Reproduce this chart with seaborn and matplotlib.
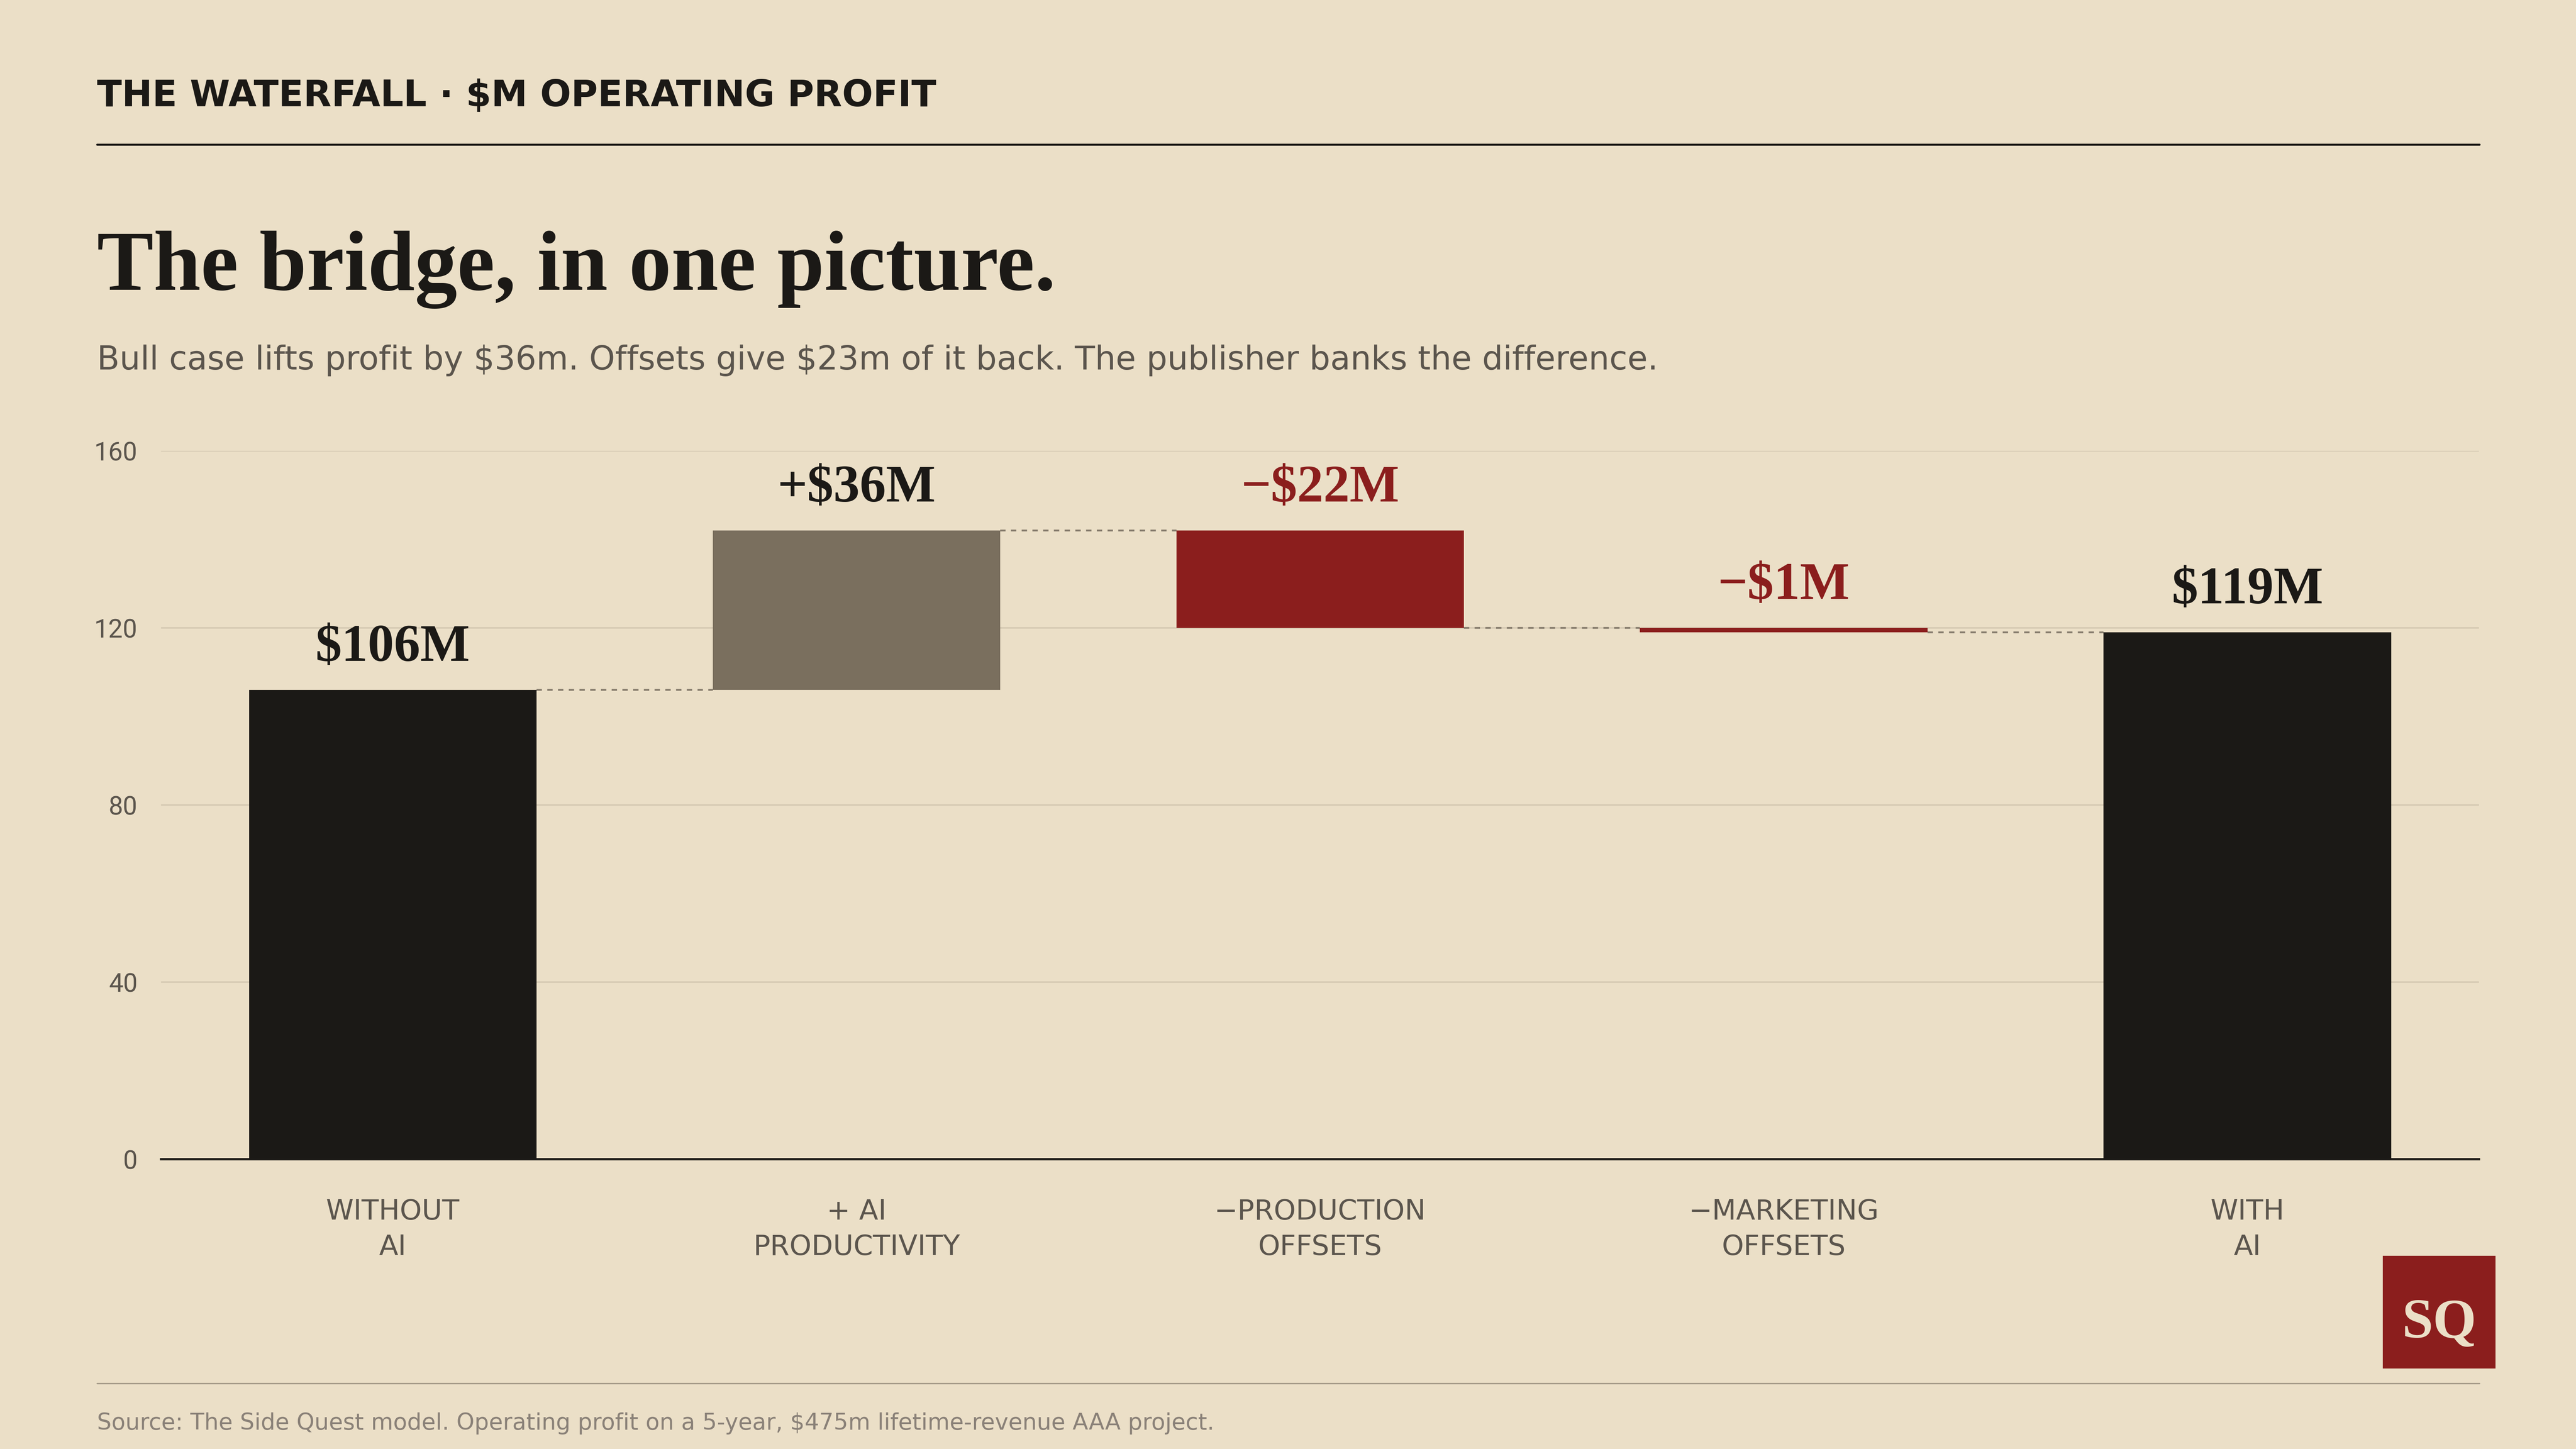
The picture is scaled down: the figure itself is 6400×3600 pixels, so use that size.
import numpy as np
import pandas as pd
import matplotlib
matplotlib.use("Agg")
import matplotlib.pyplot as plt
from matplotlib.lines import Line2D
from matplotlib.patches import Rectangle
import seaborn as sns

# ---------------- data ----------------
categories = ["WITHOUT\nAI", "+ AI\nPRODUCTIVITY", "\u2212PRODUCTION\nOFFSETS",
              "\u2212MARKETING\nOFFSETS", "WITH\nAI"]
steps = [106, 36, -22, -1, 119]
kinds = ["total", "delta", "delta", "delta", "total"]
value_labels = ["$106M", "+$36M", "\u2212$22M", "\u2212$1M", "$119M"]
yticks = [0, 40, 80, 120, 160]

header = "THE WATERFALL \u00b7 $M OPERATING PROFIT"
title = "The bridge, in one picture."
subtitle = ("Bull case lifts profit by $36m. Offsets give $23m of it back. "
            "The publisher banks the difference.")
source = ("Source: The Side Quest model. Operating profit on a 5-year, "
          "$475m lifetime-revenue AAA project.")

# ---------------- style ----------------
BG = "#ebdfc7"
DARK = "#1b1916"
TAUPE = "#7a6f5e"
RED = "#8b1e1d"
GREY = "#5b554d"
LIGHTGREY = "#8a8178"
GRID = "#d6cab3"

sns.set_theme(style="white")
plt.rcParams["font.family"] = ["DejaVu Sans"]
plt.rcParams["text.parse_math"] = False

# waterfall geometry from the data
bottoms, heights, levels = [], [], []
level = 0
for s, k in zip(steps, kinds):
    if k == "total":
        bottoms.append(0)
        heights.append(s)
        level = s
    else:
        bottoms.append(min(level, level + s))
        heights.append(abs(s))
        level = level + s
    levels.append(level)
tops = [b + h for b, h in zip(bottoms, heights)]

colors = []
for s, k in zip(steps, kinds):
    if k == "total":
        colors.append(DARK)
    elif s > 0:
        colors.append(TAUPE)
    else:
        colors.append(RED)
label_colors = [DARK if (k == "total" or s > 0) else RED for s, k in zip(steps, kinds)]

df = pd.DataFrame({"category": categories, "top": tops})

fig = plt.figure(figsize=(16, 9), dpi=400, facecolor=BG)
ax = fig.add_axes([0.0625, 0.2, 0.8999, 0.4889])
ax.set_facecolor(BG)

BAR_W = 0.62
sns.barplot(data=df, x="category", y="top", hue="category",
            palette=dict(zip(categories, colors)), width=BAR_W,
            legend=False, ax=ax, saturation=1, zorder=3)

# turn the bars into floating waterfall segments
bars = [p for p in ax.patches if isinstance(p, Rectangle)][:len(categories)]
for p, b, h, c in zip(bars, bottoms, heights, colors):
    p.set_y(b)
    p.set_height(h)
    p.set_facecolor(c)
    p.set_edgecolor("none")

# connectors
for i in range(len(categories) - 1):
    ax.plot([i + BAR_W / 2, i + 1 - BAR_W / 2], [levels[i], levels[i]],
            color="#857b6c", lw=0.8, ls=(0, (3, 3)), zorder=2)

# value labels
for i, (t, lab, c) in enumerate(zip(tops, value_labels, label_colors)):
    ax.annotate(lab, (i, t), xytext=(0, 13), textcoords="offset points",
                ha="center", va="baseline", fontsize=23.5, fontweight="bold",
                color=c, family=["Liberation Serif", "DejaVu Serif"])

ax.set_xlim(-0.5, len(categories) - 0.5)
ax.set_ylim(0, 160)
ax.set_yticks(yticks)
ax.set_yticklabels([str(v) for v in yticks], family=["Roboto", "DejaVu Sans"],
                   fontsize=11.5, color=GREY)
ax.set_xticks(range(len(categories)))
ax.set_xticklabels(categories, fontsize=12.5, color=GREY, linespacing=1.4)
ax.tick_params(axis="y", length=0, pad=10.5)
ax.tick_params(axis="x", length=0, pad=17.5)
ax.set_xlabel("")
ax.set_ylabel("")
ax.yaxis.grid(True, color=GRID, lw=0.7, zorder=0)
ax.set_axisbelow(True)
for sp in ["top", "left", "right"]:
    ax.spines[sp].set_visible(False)
ax.spines["bottom"].set_color(DARK)
ax.spines["bottom"].set_linewidth(1.0)
ax.spines["bottom"].set_zorder(4)

# ---------------- page furniture ----------------
L, R = 0.0377, 0.9625
fig.text(L, 0.9267, header, fontsize=16.3, fontweight="bold", color=DARK,
         va="baseline", ha="left")
fig.add_artist(Line2D([L, R], [0.9003, 0.9003], color=DARK, lw=0.9))
fig.text(L, 0.800, title, fontsize=37.9, fontweight="bold", color=DARK,
         va="baseline", ha="left", family=["Liberation Serif", "DejaVu Serif"])
fig.text(L, 0.745, subtitle, fontsize=14.7, color=GREY, va="baseline", ha="left",
         family=["DejaVu Sans"])
fig.add_artist(Line2D([L, R], [0.0453, 0.0453], color="#a09684", lw=0.6))
fig.text(L, 0.0133, source, fontsize=10.2, color=LIGHTGREY, va="baseline",
         ha="left", family=["DejaVu Sans"])

# SQ logo
fig.add_artist(Rectangle((0.925, 0.05556), 0.04375, 0.07778,
                         transform=fig.transFigure, facecolor=RED,
                         edgecolor="none"))
fig.text(0.925 + 0.04375 / 2, 0.0769, "SQ", fontsize=25, fontweight="bold",
         color=BG, ha="center", va="baseline",
         family=["Liberation Serif", "DejaVu Serif"])

fig.savefig("out.png", dpi=400, facecolor=BG)
